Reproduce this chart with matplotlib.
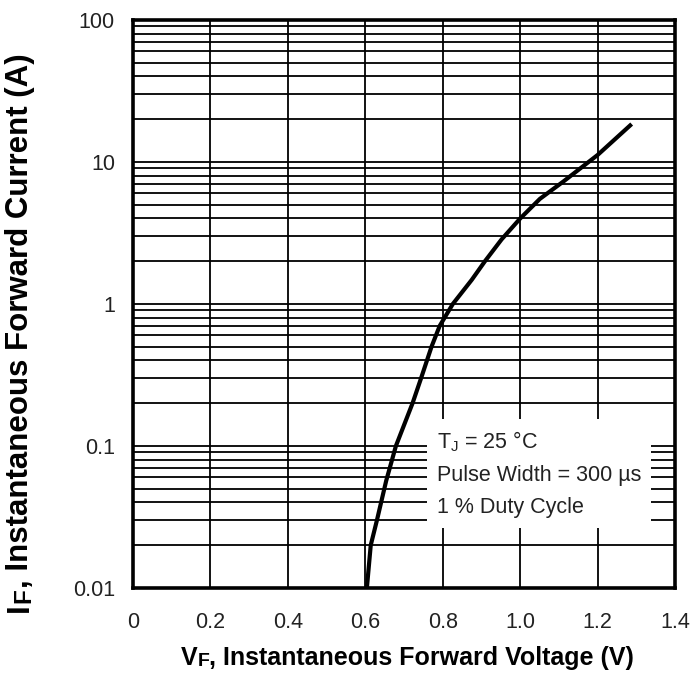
import numpy as np
import matplotlib
matplotlib.use('Agg')
import matplotlib.pyplot as plt
from matplotlib.ticker import LogLocator, NullFormatter, FixedLocator, FixedFormatter

# forward voltage (V) vs instantaneous forward current (A)
vf = [0.604, 0.614, 0.630, 0.654, 0.679, 0.722, 0.744, 0.771, 0.792, 0.826,
      0.875, 0.909, 0.952, 1.000, 1.051, 1.112, 1.200, 1.288]
i_f = [0.01, 0.02, 0.03, 0.057, 0.1, 0.2, 0.3, 0.5, 0.7, 1.0,
       1.48, 2.0, 2.85, 4.0, 5.5, 7.3, 11.2, 18.5]

xticks = [0, 0.2, 0.4, 0.6, 0.8, 1.0, 1.2, 1.4]
xticklabels = ['0', '0.2', '0.4', '0.6', '0.8', '1.0', '1.2', '1.4']
yticks = [0.01, 0.1, 1, 10, 100]
yticklabels = ['0.01', '0.1', '1', '10', '100']

note = 'T$_\\mathregular{J}$ = 25 °C\nPulse Width = 300 µs\n1 % Duty Cycle'

plt.rcParams['font.family'] = ['Liberation Sans', 'DejaVu Sans']

fig = plt.figure(figsize=(6.9, 6.75), dpi=100)
ax = fig.add_axes([0.1928, 0.1289, 0.7855, 0.8415])

ax.set_yscale('log')
ax.set_xlim(0, 1.4)
ax.set_ylim(0.01, 100)

ax.xaxis.set_major_locator(FixedLocator(xticks))
ax.xaxis.set_major_formatter(FixedFormatter(xticklabels))
ax.yaxis.set_major_locator(FixedLocator(yticks))
ax.yaxis.set_major_formatter(FixedFormatter(yticklabels))
ax.yaxis.set_minor_locator(LogLocator(base=10, subs=np.arange(2, 10)))
ax.yaxis.set_minor_formatter(NullFormatter())

ax.tick_params(which='both', length=0, labelsize=15.5, labelcolor='#222222')
ax.tick_params(axis='x', pad=17)
ax.tick_params(axis='y', pad=13)

ax.grid(True, which='both', axis='y', color='black', lw=1.3, zorder=1)
ax.grid(True, which='major', axis='x', color='black', lw=1.3, zorder=1)
ax.set_axisbelow(True)
for s in ax.spines.values():
    s.set_linewidth(2.6)

ax.plot(vf, i_f, color='black', lw=3, solid_capstyle='butt', zorder=4)

ax.text(0.561, 0.2007, note, transform=ax.transAxes, fontsize=15.5, color='#222222',
        va='center', ha='left', linespacing=1.7, zorder=3,
        bbox=dict(facecolor='white', edgecolor='none', pad=7))

# x label: "V" + small "F" + rest
bold = dict(fontweight='bold', color='black')
t1 = fig.text(0.262, 0.008, 'V', fontsize=18, ha='left', va='bottom', **bold)
t2 = ax.annotate('F', xy=(1, 0), xycoords=t1, ha='left', va='bottom', fontsize=14, **bold)
ax.annotate(', Instantaneous Forward Voltage (V)', xy=(1, 0), xycoords=(t2, t1),
            ha='left', va='bottom', fontsize=18, **bold)

# y label: "I" + small "F" + rest, rotated
u1 = fig.text(0.0507, 0.0933, 'I', fontsize=22.5, rotation=90, ha='right', va='bottom', **bold)
u2 = ax.annotate('F', xy=(1, 1), xycoords=u1, ha='right', va='bottom', fontsize=17.5,
                 rotation=90, **bold)
ax.annotate(', Instantaneous Forward Current (A)', xy=(1, 1), xycoords=(u1, u2),
            ha='right', va='bottom', fontsize=22.5, rotation=90, **bold)

fig.savefig('out.png', dpi=100)
